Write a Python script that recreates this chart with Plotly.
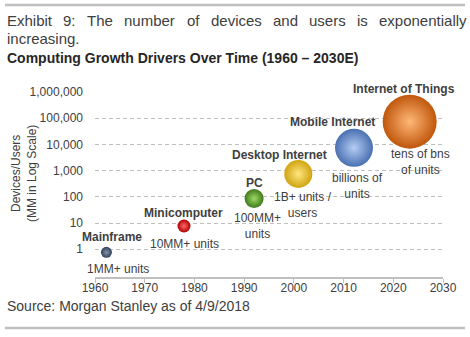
import math
import plotly.graph_objects as go

W, H = 470, 337
ML, MR, MT, MB = 95, 27, 92, 60
PW, PH = W - ML - MR, H - MT - MB

# ---------------- data ----------------
categories = ["Mainframe", "Minicomputer", "PC", "Desktop Internet",
              "Mobile Internet", "Internet of Things"]
descriptions = ["1MM+ units", "10MM+ units", "100MM+<br>units",
                "1B+ units /<br>users", "billions of<br>units", "tens of bns<br>of units"]
years = [1962.3, 1977.9, 1992.0, 2000.9, 2012.1, 2023.3]
devices_mm = [0.76, 7.7, 86, 750, 7400, 74000]
bubble_size = [11, 13, 19, 28, 38, 54]

x_tick_vals = [1960, 1970, 1980, 1990, 2000, 2010, 2020, 2030]
y_tick_vals = [1, 10, 100, 1000, 10000, 100000, 1000000]
y_tick_text = ["1", "10", "100", "1,000", "10,000", "100,000", "1,000,000"]

title_line1 = "Exhibit 9: The number of devices and users is exponentially"
title_line2 = "increasing."
title_bold = "Computing Growth Drivers Over Time (1960 \u2013 2030E)"
source_text = "Source: Morgan Stanley as of 4/9/2018"

# ---------------- styles ----------------
FONT = "Liberation Sans, Arial, sans-serif"
TXT = "#404040"
GRID = "#bfbfbf"
center_colors = ["#8193ab", "#ff6a6a", "#9dd865", "#ffe680", "#b4cdf2", "#ffb877"]
edge_colors = ["#33405a", "#b00000", "#3f7a1c", "#d0a410", "#4a70b2", "#c0560c"]
name_offsets = [(6, 15), (0, 13), (0, 16), (-19, 19), (-22, 26), (-6, 33)]
desc_offsets = [(12, -17), (1, -18), (3, -27), (5, -31), (3, -38), (11, -40)]


def px2x(px):
    return (px - ML) / PW


def py2y(py):
    return (H - MB - py) / PH


fig = go.Figure()
# radial gradient: marker.color is the rim, gradient.color the centre
fig.add_trace(go.Scatter(
    x=years, y=devices_mm, mode="markers", cliponaxis=False, hoverinfo="skip",
    marker=dict(size=bubble_size, sizemode="diameter", color=edge_colors,
                line=dict(width=0), opacity=1,
                gradient=dict(type="radial", color=center_colors)),
    showlegend=False,
))

annotations = []
for cat, desc, xv, yv, no, do in zip(categories, descriptions, years, devices_mm,
                                     name_offsets, desc_offsets):
    ly = math.log10(yv)
    annotations.append(dict(x=xv, y=ly, xref="x", yref="y", text="<b>" + cat + "</b>",
                            showarrow=False, xanchor="center", yanchor="middle",
                            xshift=no[0], yshift=no[1],
                            font=dict(family=FONT, size=12, color=TXT)))
    annotations.append(dict(x=xv, y=ly, xref="x", yref="y", text=desc,
                            showarrow=False, xanchor="center", yanchor="middle",
                            xshift=do[0], yshift=do[1],
                            font=dict(family=FONT, size=12, color=TXT)))

# justified first title line: word-by-word placement using Arial metrics
ARIAL = {"E": 667, "x": 500, "h": 556, "i": 222, "b": 556, "t": 278, "9": 556,
         ":": 278, "T": 611, "e": 556, "n": 556, "u": 556, "m": 833, "r": 333,
         "o": 556, "f": 278, "d": 556, "v": 500, "c": 500, "s": 500, "a": 556,
         "p": 556, "l": 222, "y": 500}
TSIZE = 15
words = title_line1.split(" ")
widths = [sum(ARIAL.get(ch, 556) for ch in w) / 1000 * TSIZE for w in words]
left, right = 5, 465
gap = (right - left - sum(widths)) / (len(words) - 1)
cur = left
for w, wd in zip(words, widths):
    annotations.append(dict(x=px2x(cur), y=py2y(20), xref="paper", yref="paper",
                            text=w, showarrow=False, xanchor="left", yanchor="middle",
                            font=dict(family=FONT, size=TSIZE, color=TXT)))
    cur += wd + gap

annotations.append(dict(x=px2x(5), y=py2y(38), xref="paper", yref="paper",
                        text=title_line2, showarrow=False, xanchor="left", yanchor="middle",
                        font=dict(family=FONT, size=TSIZE, color=TXT)))
annotations.append(dict(x=px2x(5), y=py2y(58), xref="paper", yref="paper",
                        text="<b>" + title_bold + "</b>", showarrow=False,
                        xanchor="left", yanchor="middle",
                        font=dict(family=FONT, size=14, color="#262626")))
annotations.append(dict(x=px2x(5), y=py2y(306), xref="paper", yref="paper",
                        text=source_text, showarrow=False, xanchor="left", yanchor="middle",
                        font=dict(family=FONT, size=14, color=TXT)))
annotations.append(dict(x=px2x(24), y=py2y(174), xref="paper", yref="paper",
                        text="Devices/Users<br>(MM in Log Scale)", showarrow=False,
                        textangle=-90, xanchor="center", yanchor="middle",
                        font=dict(family=FONT, size=12, color=TXT)))

shapes = [
    dict(type="line", xref="paper", yref="paper", x0=px2x(5), x1=px2x(465),
         y0=py2y(5), y1=py2y(5), line=dict(color=GRID, width=2.5)),
    dict(type="line", xref="paper", yref="paper", x0=px2x(5), x1=px2x(465),
         y0=py2y(328), y1=py2y(328), line=dict(color=GRID, width=2.5)),
]

fig.update_layout(
    width=W, height=H, margin=dict(l=ML, r=MR, t=MT, b=MB, pad=0),
    paper_bgcolor="white", plot_bgcolor="white",
    font=dict(family=FONT, size=12, color=TXT),
    annotations=annotations, shapes=shapes, hovermode=False,
    xaxis=dict(range=[1960, 2030], tickvals=x_tick_vals, showgrid=False, zeroline=False,
               showline=True, linecolor=GRID, linewidth=1.5,
               ticks="outside", ticklen=4, tickcolor=GRID, tickwidth=1,
               ticklabelstandoff=-5,
               tickfont=dict(family=FONT, size=12, color=TXT)),
    yaxis=dict(type="log", range=[-1.06, 6], tickvals=y_tick_vals, ticktext=y_tick_text,
               showgrid=True, gridcolor=GRID, gridwidth=1, griddash="4px,3px",
               zeroline=False, showline=False, ticks="", ticklabelstandoff=11,
               tickfont=dict(family=FONT, size=12, color=TXT)),
)

fig.write_html("out.html")
